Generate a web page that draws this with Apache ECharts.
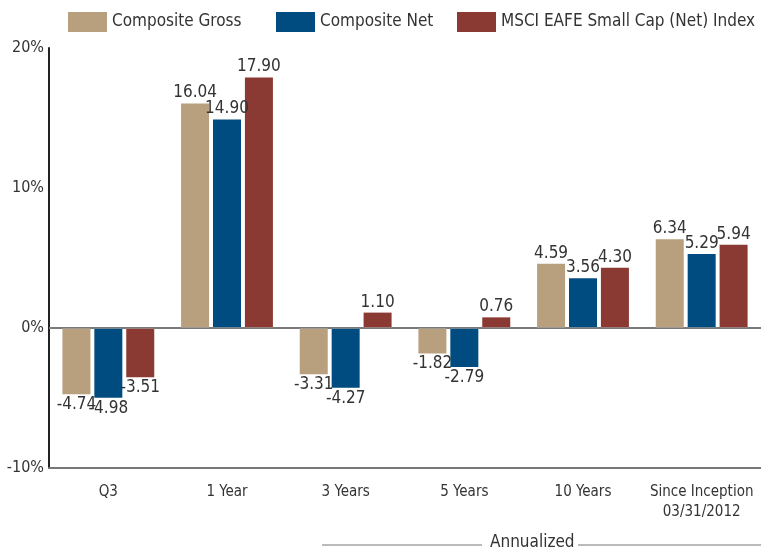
<!DOCTYPE html>
<html>
<head>
<meta charset="utf-8">
<script src="https://cdn.jsdelivr.net/npm/echarts@6/dist/echarts.min.js"></script>
<style>
  html, body { margin: 0; padding: 0; background: #fff; }
  #chart { width: 761px; height: 552px; }
</style>
</head>
<body>
<div id="chart"></div>
<script>
  var categories = ['Q3', '1 Year', '3 Years', '5 Years', '10 Years', 'Since Inception\n03/31/2012'];
  var compositeGross = [-4.74, 16.04, -3.31, -1.82, 4.59, 6.34];
  var compositeNet = [-4.98, 14.90, -4.27, -2.79, 3.56, 5.29];
  var msciIndex = [-3.51, 17.90, 1.10, 0.76, 4.30, 5.94];
  var seriesNames = ['Composite Gross', 'Composite Net', 'MSCI EAFE Small Cap (Net) Index'];
  var colors = ['#B8A07E', '#004B7F', '#8B3A33'];

  var font = '"Liberation Sans Narrow", "DejaVu Sans Condensed", sans-serif';
  var chart = echarts.init(document.getElementById('chart'));

  function makeBar(name, values, color, withZero) {
    var s = {
      name: name,
      type: 'bar',
      data: values.map(function (v) {
        // negative values get their label below the bar
        return { value: v, label: { position: v < 0 ? 'bottom' : 'top' } };
      }),
      barWidth: 28,
      barGap: '14%',
      itemStyle: { color: color },
      label: {
        show: true,
        color: '#333',
        fontFamily: font,
        fontSize: 17,
        distance: 2,
        formatter: function (p) { return p.value.toFixed(2); }
      }
    };
    if (withZero) {
      s.markLine = {
        silent: true,
        symbol: 'none',
        label: { show: false },
        lineStyle: { color: '#999', type: 'solid', width: 1.5 },
        data: [{ yAxis: 0 }]
      };
    }
    return s;
  }

  function makeLegend(i, left) {
    return {
      top: 12,
      left: left,
      padding: 0,
      icon: 'rect',
      itemWidth: 39,
      itemHeight: 20,
      textStyle: { fontFamily: font, fontSize: 17, color: '#333' },
      data: [seriesNames[i]]
    };
  }

  var option = {
    animation: false,
    legend: [makeLegend(0, 68), makeLegend(1, 276), makeLegend(2, 457)],
    grid: { left: 49, right: -8, top: 48, bottom: 84 },
    xAxis: [{
      type: 'category',
      data: categories,
      position: 'bottom',
      axisLine: { onZero: false, lineStyle: { color: '#777', width: 2 } },
      axisTick: { show: false },
      axisLabel: {
        interval: 0,
        fontFamily: font, fontSize: 15, color: '#333',
        margin: 14, lineHeight: 20
      }
    }, {
      type: 'category',
      data: categories,
      position: 'top',
      axisLine: { show: true, lineStyle: { color: '#222', width: 2 } },
      axisTick: { show: false },
      axisLabel: { show: false }
    }],
    yAxis: {
      type: 'value',
      min: -10,
      max: 20,
      interval: 10,
      axisLine: { show: true, lineStyle: { color: '#222', width: 2 } },
      axisTick: { show: false },
      splitLine: { show: false },
      axisLabel: {
        fontFamily: font, fontSize: 16, color: '#333', margin: 5,
        formatter: '{value}%'
      }
    },
    graphic: [{
      type: 'text',
      left: 490,
      top: 534,
      style: { text: 'Annualized', font: '17px ' + font, fill: '#333' }
    }, {
      type: 'line',
      shape: { x1: 322, y1: 545, x2: 482, y2: 545 },
      style: { stroke: '#777', lineWidth: 1 }
    }, {
      type: 'line',
      shape: { x1: 578, y1: 545, x2: 761, y2: 545 },
      style: { stroke: '#777', lineWidth: 1 }
    }],
    series: [
      makeBar(seriesNames[0], compositeGross, colors[0], true),
      makeBar(seriesNames[1], compositeNet, colors[1], false),
      makeBar(seriesNames[2], msciIndex, colors[2], false)
    ]
  };
  chart.setOption(option);
</script>
</body>
</html>
